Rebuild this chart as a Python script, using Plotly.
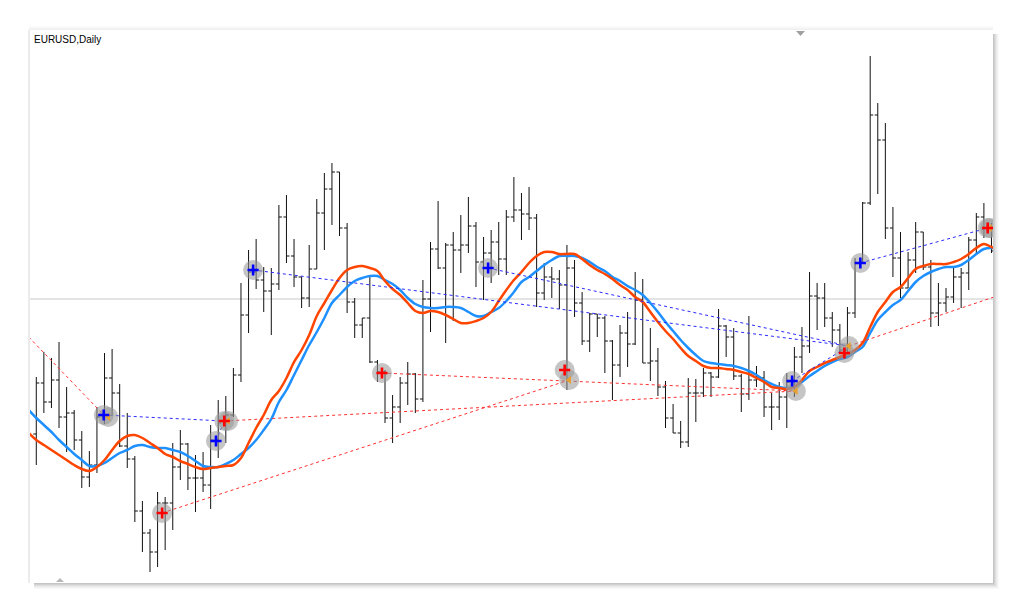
import plotly.graph_objects as go

# ---------------- data ----------------
bar_index = list(range(127))

opens = [1.0166, 1.0217, 1.0198, 1.0220, 1.0183, 1.0187, 1.0160, 1.0123, 1.0135, 1.0183,
         1.0222, 1.0207, 1.0154, 1.0141, 1.0089, 1.0067, 1.0048, 1.0097, 1.0097, 1.0133,
         1.0156, 1.0122, 1.0122, 1.0115, 1.0160, 1.0177, 1.0185, 1.0225, 1.0285, 1.0328,
         1.0320, 1.0309, 1.0316, 1.0383, 1.0344, 1.0323, 1.0302, 1.0331, 1.0387, 1.0411,
         1.0428, 1.0372, 1.0298, 1.0275, 1.0282, 1.0238, 1.0228, 1.0182, 1.0193, 1.0217,
         1.0226, 1.0201, 1.0301, 1.0351, 1.0332, 1.0355, 1.0350, 1.0355, 1.0374, 1.0338,
         1.0347, 1.0358, 1.0341, 1.0383, 1.0390, 1.0386, 1.0382, 1.0307, 1.0323, 1.0321,
         1.0315, 1.0332, 1.0297, 1.0259, 1.0286, 1.0282, 1.0259, 1.0235, 1.0267, 1.0256,
         1.0300, 1.0237, 1.0239, 1.0213, 1.0182, 1.0167, 1.0158, 1.0207, 1.0207, 1.0227,
         1.0223, 1.0274, 1.0263, 1.0224, 1.0206, 1.0220, 1.0222, 1.0193, 1.0193, 1.0203,
         1.0218, 1.0243, 1.0254, 1.0304, 1.0302, 1.0282, 1.0270, 1.0250, 1.0287, 1.0337,
         1.0397, 1.0485, 1.0460, 1.0372, 1.0342, 1.0312, 1.0340, 1.0368, 1.0333, 1.0287,
         1.0297, 1.0303, 1.0323, 1.0327, 1.0360, 1.0383, 1.0372]

highs = [1.0223, 1.0248, 1.0242, 1.0258, 1.0213, 1.0190, 1.0169, 1.0149, 1.0193, 1.0247,
         1.0251, 1.0216, 1.0187, 1.0144, 1.0099, 1.0071, 1.0108, 1.0103, 1.0157, 1.0170,
         1.0157, 1.0145, 1.0148, 1.0175, 1.0200, 1.0204, 1.0232, 1.0317, 1.0350, 1.0361,
         1.0333, 1.0332, 1.0395, 1.0405, 1.0361, 1.0323, 1.0355, 1.0401, 1.0427, 1.0437,
         1.0428, 1.0377, 1.0302, 1.0282, 1.0323, 1.0240, 1.0230, 1.0205, 1.0223, 1.0238,
         1.0227, 1.0320, 1.0358, 1.0399, 1.0357, 1.0368, 1.0385, 1.0403, 1.0378, 1.0363,
         1.0370, 1.0378, 1.0390, 1.0423, 1.0407, 1.0413, 1.0386, 1.0337, 1.0333, 1.0330,
         1.0355, 1.0340, 1.0308, 1.0287, 1.0286, 1.0284, 1.0260, 1.0275, 1.0288, 1.0328,
         1.0321, 1.0272, 1.0252, 1.0219, 1.0196, 1.0179, 1.0222, 1.0221, 1.0232, 1.0228,
         1.0291, 1.0275, 1.0272, 1.0226, 1.0284, 1.0234, 1.0229, 1.0207, 1.0218, 1.0227,
         1.0253, 1.0273, 1.0328, 1.0317, 1.0317, 1.0288, 1.0276, 1.0293, 1.0342, 1.0398,
         1.0544, 1.0497, 1.0477, 1.0393, 1.0368, 1.0348, 1.0378, 1.0368, 1.0340, 1.0317,
         1.0312, 1.0332, 1.0332, 1.0363, 1.0387, 1.0397, 1.0377]

lows = [1.0135, 1.0187, 1.0192, 1.0172, 1.0148, 1.0150, 1.0112, 1.0113, 1.0127, 1.0176,
        1.0185, 1.0153, 1.0132, 1.0078, 1.0048, 1.0028, 1.0033, 1.0050, 1.0070, 1.0120,
        1.0110, 1.0088, 1.0108, 1.0091, 1.0142, 1.0157, 1.0183, 1.0218, 1.0267, 1.0311,
        1.0288, 1.0265, 1.0310, 1.0337, 1.0313, 1.0292, 1.0293, 1.0331, 1.0350, 1.0375,
        1.0364, 1.0287, 1.0262, 1.0262, 1.0237, 1.0218, 1.0177, 1.0157, 1.0177, 1.0195,
        1.0187, 1.0198, 1.0268, 1.0331, 1.0257, 1.0279, 1.0327, 1.0347, 1.0313, 1.0300,
        1.0317, 1.0325, 1.0325, 1.0378, 1.0360, 1.0370, 1.0293, 1.0300, 1.0302, 1.0291,
        1.0210, 1.0283, 1.0255, 1.0248, 1.0263, 1.0227, 1.0200, 1.0223, 1.0233, 1.0255,
        1.0237, 1.0219, 1.0204, 1.0172, 1.0167, 1.0152, 1.0153, 1.0178, 1.0203, 1.0203,
        1.0222, 1.0243, 1.0220, 1.0188, 1.0200, 1.0213, 1.0183, 1.0170, 1.0180, 1.0172,
        1.0203, 1.0227, 1.0247, 1.0270, 1.0273, 1.0253, 1.0247, 1.0248, 1.0282, 1.0337,
        1.0395, 1.0406, 1.0361, 1.0323, 1.0302, 1.0312, 1.0327, 1.0330, 1.0273, 1.0274,
        1.0288, 1.0297, 1.0292, 1.0310, 1.0345, 1.0362, 1.0347]

closes = [1.0217, 1.0198, 1.0220, 1.0183, 1.0187, 1.0160, 1.0123, 1.0135, 1.0183, 1.0222,
          1.0207, 1.0154, 1.0141, 1.0089, 1.0067, 1.0048, 1.0097, 1.0097, 1.0133, 1.0156,
          1.0122, 1.0122, 1.0115, 1.0160, 1.0177, 1.0185, 1.0225, 1.0285, 1.0328, 1.0320,
          1.0309, 1.0316, 1.0383, 1.0344, 1.0323, 1.0302, 1.0331, 1.0387, 1.0411, 1.0428,
          1.0372, 1.0298, 1.0275, 1.0282, 1.0238, 1.0228, 1.0182, 1.0193, 1.0217, 1.0226,
          1.0201, 1.0301, 1.0351, 1.0332, 1.0355, 1.0350, 1.0355, 1.0374, 1.0338, 1.0347,
          1.0358, 1.0341, 1.0383, 1.0390, 1.0386, 1.0382, 1.0307, 1.0323, 1.0321, 1.0315,
          1.0332, 1.0297, 1.0259, 1.0286, 1.0282, 1.0259, 1.0235, 1.0267, 1.0256, 1.0300,
          1.0237, 1.0239, 1.0213, 1.0182, 1.0167, 1.0158, 1.0207, 1.0207, 1.0227, 1.0223,
          1.0274, 1.0263, 1.0224, 1.0206, 1.0220, 1.0222, 1.0193, 1.0193, 1.0203, 1.0218,
          1.0243, 1.0254, 1.0304, 1.0302, 1.0282, 1.0270, 1.0250, 1.0287, 1.0337, 1.0397,
          1.0485, 1.0460, 1.0372, 1.0342, 1.0312, 1.0340, 1.0368, 1.0333, 1.0287, 1.0297,
          1.0303, 1.0323, 1.0327, 1.0360, 1.0383, 1.0372, 1.0349]

ma_index = list(range(-1, 128))

ma_orange = [1.0167, 1.0160, 1.0155, 1.0150, 1.0145, 1.0140, 1.0135, 1.0131, 1.0129, 1.0133,
             1.0140, 1.0150, 1.0159, 1.0164, 1.0165, 1.0162, 1.0157, 1.0152, 1.0146, 1.0143,
             1.0139, 1.0136, 1.0133, 1.0131, 1.0132, 1.0133, 1.0134, 1.0135, 1.0142, 1.0157,
             1.0172, 1.0185, 1.0200, 1.0209, 1.0222, 1.0238, 1.0250, 1.0265, 1.0284, 1.0297,
             1.0310, 1.0322, 1.0330, 1.0333, 1.0334, 1.0332, 1.0329, 1.0319, 1.0311, 1.0305,
             1.0297, 1.0289, 1.0287, 1.0289, 1.0288, 1.0285, 1.0281, 1.0277, 1.0277, 1.0279,
             1.0282, 1.0288, 1.0299, 1.0310, 1.0320, 1.0328, 1.0337, 1.0344, 1.0348, 1.0348,
             1.0346, 1.0346, 1.0346, 1.0341, 1.0335, 1.0330, 1.0326, 1.0321, 1.0315, 1.0310,
             1.0303, 1.0298, 1.0288, 1.0278, 1.0269, 1.0261, 1.0252, 1.0244, 1.0239, 1.0234,
             1.0232, 1.0232, 1.0231, 1.0230, 1.0228, 1.0226, 1.0222, 1.0218, 1.0213, 1.0212,
             1.0211, 1.0213, 1.0220, 1.0229, 1.0233, 1.0237, 1.0240, 1.0243, 1.0246, 1.0250,
             1.0257, 1.0273, 1.0288, 1.0298, 1.0308, 1.0313, 1.0322, 1.0331, 1.0334, 1.0336,
             1.0336, 1.0336, 1.0338, 1.0341, 1.0346, 1.0352, 1.0356, 1.0353, 1.0350]

ma_blue = [1.0190, 1.0182, 1.0175, 1.0168, 1.0160, 1.0153, 1.0146, 1.0140, 1.0134, 1.0134,
           1.0137, 1.0142, 1.0147, 1.0150, 1.0154, 1.0155, 1.0153, 1.0152, 1.0152, 1.0150,
           1.0148, 1.0144, 1.0139, 1.0134, 1.0133, 1.0133, 1.0136, 1.0140, 1.0146, 1.0152,
           1.0160, 1.0170, 1.0181, 1.0198, 1.0210, 1.0225, 1.0240, 1.0255, 1.0268, 1.0282,
           1.0297, 1.0305, 1.0313, 1.0319, 1.0322, 1.0324, 1.0324, 1.0320, 1.0316, 1.0310,
           1.0302, 1.0296, 1.0293, 1.0292, 1.0292, 1.0293, 1.0293, 1.0292, 1.0288, 1.0284,
           1.0284, 1.0288, 1.0292, 1.0299, 1.0308, 1.0318, 1.0323, 1.0329, 1.0335, 1.0340,
           1.0344, 1.0344, 1.0344, 1.0342, 1.0338, 1.0333, 1.0329, 1.0323, 1.0319, 1.0314,
           1.0310, 1.0305, 1.0297, 1.0288, 1.0278, 1.0269, 1.0260, 1.0252, 1.0245, 1.0239,
           1.0237, 1.0236, 1.0235, 1.0234, 1.0232, 1.0229, 1.0225, 1.0220, 1.0216, 1.0213,
           1.0212, 1.0213, 1.0218, 1.0224, 1.0229, 1.0234, 1.0238, 1.0241, 1.0243, 1.0248,
           1.0253, 1.0267, 1.0280, 1.0288, 1.0295, 1.0300, 1.0309, 1.0318, 1.0324, 1.0328,
           1.0331, 1.0333, 1.0333, 1.0335, 1.0340, 1.0346, 1.0351, 1.0352, 1.0350]

# signal markers (bar position, price)
buy_x = [8.9, 23.7, 28.6, 59.6, 99.7, 108.7]
buy_y = [1.0185, 1.0159, 1.0330, 1.0332, 1.0219, 1.0337]
sell_x = [16.6, 24.8, 45.6, 69.7, 106.6, 125.5]
sell_y = [1.0087, 1.0179, 1.0227, 1.0230, 1.0247, 1.0372]
arrow_x = [9.5, 25.3, 70.3, 100.2, 107.2, 125.8]
arrow_y = [1.0183, 1.0179, 1.0220, 1.0209, 1.0254, 1.0372]

# trend lines: (x0, y0, x1, y1)
blue_lines = [(8.9, 1.0185, 24.8, 1.0179),
              (23.7, 1.0159, 24.8, 1.0179),
              (28.6, 1.0330, 107.2, 1.0254),
              (59.6, 1.0332, 107.2, 1.0254),
              (99.7, 1.0219, 107.2, 1.0254),
              (108.7, 1.0337, 125.5, 1.0372)]
red_lines = [(-1.0, 1.0263, 8.9, 1.0185),
             (16.6, 1.0087, 70.3, 1.0220),
             (24.8, 1.0179, 100.2, 1.0209),
             (45.6, 1.0227, 100.2, 1.0209),
             (107.2, 1.0254, 127.5, 1.0306)]

level_price = 1.0301
title_text = "EURUSD,Daily"

# ---------------- figure ----------------
fig = go.Figure()

fig.add_hline(y=level_price, line=dict(color="#c8c8c8", width=1), layer="below")

fig.add_trace(go.Ohlc(
    x=bar_index, open=opens, high=highs, low=lows, close=closes,
    increasing=dict(line=dict(color="#111111", width=1)),
    decreasing=dict(line=dict(color="#111111", width=1)),
    tickwidth=0.4, showlegend=False, hoverinfo="skip"))

fig.add_trace(go.Scatter(x=ma_index, y=ma_blue, mode="lines",
                         line=dict(color="#1E90FF", width=2.5, shape="spline"),
                         showlegend=False, hoverinfo="skip"))
fig.add_trace(go.Scatter(x=ma_index, y=ma_orange, mode="lines",
                         line=dict(color="#FF4500", width=2.5, shape="spline"),
                         showlegend=False, hoverinfo="skip"))

for (x0, y0, x1, y1) in blue_lines:
    fig.add_trace(go.Scatter(x=[x0, x1], y=[y0, y1], mode="lines",
                             line=dict(color="#2a2aff", width=1, dash="3px,3px"),
                             showlegend=False, hoverinfo="skip"))
for (x0, y0, x1, y1) in red_lines:
    fig.add_trace(go.Scatter(x=[x0, x1], y=[y0, y1], mode="lines",
                             line=dict(color="#ff3030", width=1, dash="3px,3px"),
                             showlegend=False, hoverinfo="skip"))

# gray halos
fig.add_trace(go.Scatter(x=buy_x + sell_x + arrow_x, y=buy_y + sell_y + arrow_y,
                         mode="markers",
                         marker=dict(size=20, color="rgba(150,150,150,0.55)", line=dict(width=0)),
                         showlegend=False, hoverinfo="skip"))

fig.add_trace(go.Scatter(x=arrow_x, y=arrow_y, mode="markers",
                         marker=dict(symbol="triangle-left", size=7, color="#E8A030"),
                         showlegend=False, hoverinfo="skip"))
fig.add_trace(go.Scatter(x=buy_x, y=buy_y, mode="markers",
                         marker=dict(symbol="cross-thin", size=8, color="#0000ff",
                                     line=dict(width=2.6, color="#0000ff")),
                         showlegend=False, hoverinfo="skip"))
fig.add_trace(go.Scatter(x=sell_x, y=sell_y, mode="markers",
                         marker=dict(symbol="cross-thin", size=8, color="#ff0000",
                                     line=dict(width=2.6, color="#ff0000")),
                         showlegend=False, hoverinfo="skip"))

# frame shadows (paper coords; plot area is 963 x 553 px)
pw, ph = 963.0, 553.0
shapes = []
for k, a in enumerate([0.35, 0.28, 0.2, 0.13, 0.08, 0.04]):
    shapes.append(dict(type="rect", xref="paper", yref="paper",
                       x0=1 + k / pw, x1=1 + (k + 1) / pw, y0=-(k + 1) / ph, y1=1 - 4 / ph,
                       fillcolor=f"rgba(90,90,90,{a})", line=dict(width=0), layer="above"))
    shapes.append(dict(type="rect", xref="paper", yref="paper",
                       x0=4 / pw, x1=1 + k / pw, y0=-(k + 1) / ph, y1=-k / ph,
                       fillcolor=f"rgba(90,90,90,{a})", line=dict(width=0), layer="above"))
for k, a in enumerate([0.12, 0.08, 0.05, 0.03]):
    shapes.append(dict(type="rect", xref="paper", yref="paper",
                       x0=-1 / pw, x1=1, y0=1 + k / ph, y1=1 + (k + 1) / ph,
                       fillcolor=f"rgba(120,120,120,{a})", line=dict(width=0), layer="above"))
shapes.append(dict(type="line", xref="paper", yref="paper", x0=-1 / pw, x1=-1 / pw,
                   y0=0, y1=1, line=dict(color="#d8d8d8", width=1)))
# chart-shift markers
shapes.append(dict(type="path", xref="paper", yref="paper",
                   path=f"M {(796-30)/pw},{1 - 1/ph} L {(805-30)/pw},{1 - 1/ph} L {(800.5-30)/pw},{1 - 6/ph} Z",
                   fillcolor="#a0a0a0", line=dict(width=0)))
shapes.append(dict(type="path", xref="paper", yref="paper",
                   path=f"M {(56-30)/pw},{1/ph} L {(64-30)/pw},{1/ph} L {(60-30)/pw},{5/ph} Z",
                   fillcolor="#b8b8b8", line=dict(width=0)))

# the page body has an 8px margin, so the figure is 8px smaller and margins shifted
fig.update_layout(
    width=1016, height=606,
    margin=dict(l=22, r=31, t=22, b=31),
    paper_bgcolor="#ffffff", plot_bgcolor="#ffffff",
    shapes=list(fig.layout.shapes) + shapes,
    xaxis=dict(range=[-0.83, 126.2], showgrid=False, zeroline=False, showticklabels=False,
               ticks="", showline=False, rangeslider=dict(visible=False), fixedrange=True),
    yaxis=dict(range=[1.0017, 1.0570], showgrid=False, zeroline=False, showticklabels=False,
               ticks="", showline=False, fixedrange=True),
    annotations=[dict(text=title_text, xref="paper", yref="paper", x=2 / pw, y=1 - 2 / ph,
                      xanchor="left", yanchor="top", showarrow=False,
                      font=dict(family="Liberation Sans, Arial, sans-serif", size=10, color="#000000"))],
    hovermode=False,
)

fig.write_html("out.html", config={"displayModeBar": False})
